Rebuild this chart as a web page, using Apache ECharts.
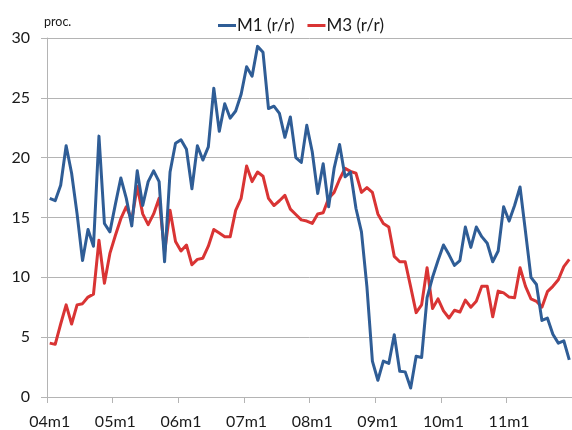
<!DOCTYPE html>
<html>
<head>
<meta charset="utf-8">
<script src="https://cdn.jsdelivr.net/npm/echarts@6/dist/echarts.min.js"></script>
<style>
  html, body { margin: 0; padding: 0; background: #fff; }
  #chart { width: 572px; height: 430px; }
</style>
</head>
<body>
<div id="chart"></div>
<script>
// Monthly growth rates, year on year, 2004m1 – 2011m12
const years = ['04', '05', '06', '07', '08', '09', '10', '11'];
const months = [];
years.forEach(y => { for (let m = 1; m <= 12; m++) months.push(y + 'm' + m); });

const seriesNames = ['M1 (r/r)', 'M3 (r/r)'];

const m1 = [
  16.6, 16.4, 17.7, 21.0, 18.7, 15.3, 11.4, 14.0, 12.6, 21.8, 14.5, 13.8,
  16.1, 18.3, 16.6, 14.3, 18.9, 16.0, 18.0, 18.9, 18.0, 11.3, 18.8, 21.2,
  21.5, 20.7, 17.4, 21.0, 19.8, 20.9, 25.8, 22.2, 24.5, 23.3, 23.9, 25.3,
  27.6, 26.8, 29.3, 28.8, 24.1, 24.3, 23.7, 21.7, 23.4, 20.0, 19.6, 22.7,
  20.5, 17.0, 19.5, 15.9, 19.1, 21.1, 18.4, 18.8, 15.75, 13.8, 9.2, 3.0,
  1.4, 3.0, 2.8, 5.2, 2.15, 2.1, 0.75, 3.4, 3.3, 8.3, 10.0, 11.4,
  12.7, 11.9, 11.0, 11.4, 14.2, 12.5, 14.2, 13.4, 12.85, 11.3, 12.2, 15.9,
  14.7, 16.0, 17.55, 13.8, 10.0, 9.4, 6.4, 6.6, 5.25, 4.5, 4.7, 3.1
];

const m3 = [
  4.5, 4.4, 6.1, 7.7, 6.1, 7.7, 7.8, 8.35, 8.6, 13.1, 9.5, 12.0,
  13.5, 14.9, 15.9, 14.8, 17.6, 15.3, 14.4, 15.3, 16.6, 12.1, 15.6, 13.0,
  12.2, 12.7, 11.05, 11.5, 11.6, 12.6, 14.0, 13.7, 13.4, 13.4, 15.6, 16.6,
  19.3, 18.0, 18.8, 18.45, 16.6, 16.0, 16.4, 16.85, 15.7, 15.25, 14.8, 14.7,
  14.5, 15.3, 15.4, 16.6, 17.1, 18.2, 19.1, 18.85, 18.7, 17.1, 17.5, 17.1,
  15.3, 14.5, 14.2, 11.75, 11.3, 11.3, 9.2, 7.05, 7.7, 10.8, 7.4, 8.2,
  7.2, 6.6, 7.25, 7.1, 8.1, 7.5, 8.0, 9.25, 9.25, 6.7, 8.85, 8.7,
  8.35, 8.3, 10.8, 9.25, 8.2, 8.0, 7.5, 8.8, 9.25, 9.8, 10.9, 11.5
];

const yTicks = { min: 0, max: 30, step: 5 };
const unitLabel = 'proc.';

const FONT = 'Lato, "Liberation Sans", sans-serif';
const TEXT = '#1a1a1a';
const GRID = '#b4b4b4';
const BLUE = '#2f5d96';
const RED = '#d93434';

const chart = echarts.init(document.getElementById('chart'), null, { renderer: 'canvas' });

chart.setOption({
  animation: false,
  backgroundColor: '#ffffff',
  textStyle: { fontFamily: FONT, color: TEXT },
  grid: { left: 47, top: 38, width: 527, height: 362, containLabel: false },
  legend: {
    data: seriesNames,
    left: 218,
    top: 17,
    padding: 0,
    icon: 'rect',
    itemWidth: 18,
    itemHeight: 3,
    itemGap: 13,
    textStyle: { fontFamily: FONT, fontSize: 17, color: TEXT, padding: [0, 0, 0, -4] }
  },
  graphic: [{
    type: 'text',
    left: 44,
    top: 15,
    style: { text: unitLabel, font: '12.5px ' + FONT, fill: TEXT }
  }],
  xAxis: {
    type: 'category',
    data: months,
    boundaryGap: true,
    axisLine: { show: true, lineStyle: { color: GRID, width: 1 } },
    axisTick: { show: true, interval: 11, length: 6, lineStyle: { color: GRID } },
    axisLabel: { interval: 11, margin: 17, fontSize: 16, fontFamily: FONT, color: TEXT },
    splitLine: { show: false }
  },
  yAxis: {
    type: 'value',
    min: yTicks.min,
    max: yTicks.max,
    interval: yTicks.step,
    axisLine: { show: true, lineStyle: { color: GRID, width: 1 } },
    axisTick: { show: true, length: 6, lineStyle: { color: GRID } },
    axisLabel: { margin: 17, fontSize: 16, fontFamily: FONT, color: TEXT },
    splitLine: { show: true, lineStyle: { color: GRID, width: 1 } }
  },
  series: [
    {
      name: seriesNames[0],
      type: 'line',
      data: m1,
      symbol: 'none',
      color: BLUE,
      lineStyle: { width: 3, color: BLUE, join: 'round' },
      z: 3
    },
    {
      name: seriesNames[1],
      type: 'line',
      data: m3,
      symbol: 'none',
      color: RED,
      lineStyle: { width: 3, color: RED, join: 'round' },
      z: 2
    }
  ]
});
</script>
</body>
</html>
